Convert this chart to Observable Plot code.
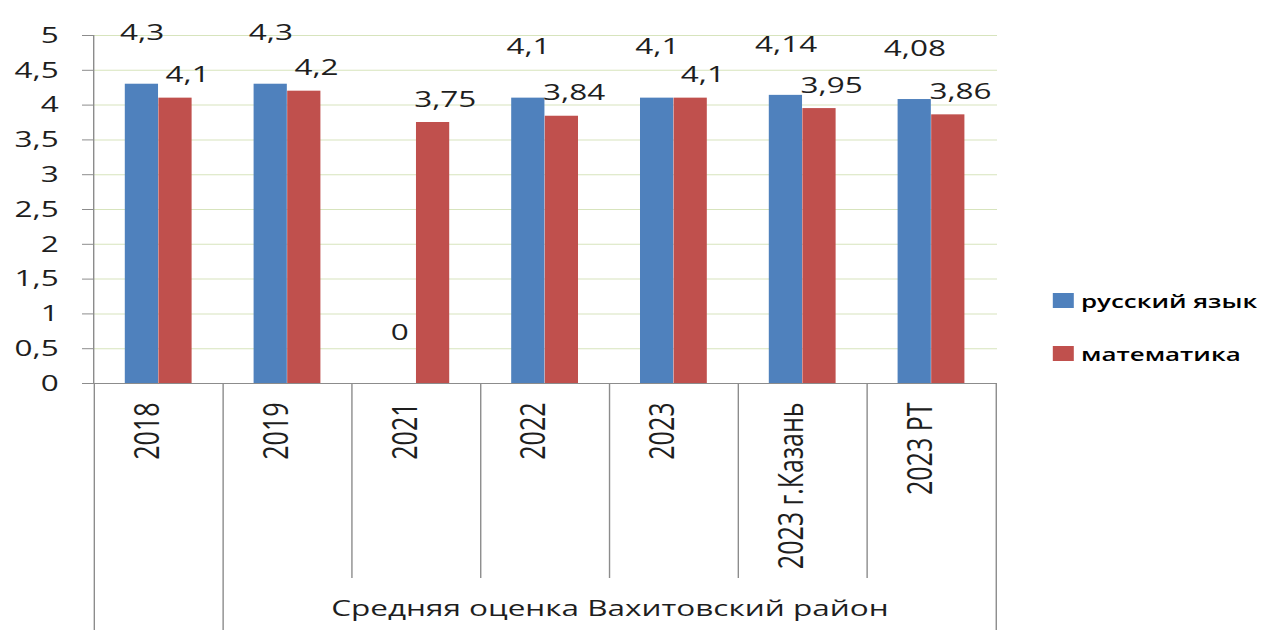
<!DOCTYPE html>
<html><head><meta charset="utf-8">
<script src="https://cdn.jsdelivr.net/npm/d3@7"></script>
<script src="https://cdn.jsdelivr.net/npm/@observablehq/plot@0.6"></script>
<style>
html,body{margin:0;padding:0;overflow:hidden;background:#fff}
#wrap{position:relative;height:630px;transform-origin:0 0}
#legend{position:absolute}
.lg-swatch{height:53px !important;display:flex !important;align-items:center;margin:0 !important;padding:0 !important}
.lg-swatch svg{margin-right:5px !important}
</style></head><body><div id="wrap"></div><script>
const categories = ["2018", "2019", "2021", "2022", "2023", "2023 г.Казань", "2023 РТ"];
const seriesNames = ["русский язык", "математика"];
const russian = [4.3, 4.3, 0, 4.1, 4.1, 4.14, 4.08];
const math = [4.1, 4.2, 3.75, 3.84, 4.1, 3.95, 3.86];
const yTicks = [0, 0.5, 1, 1.5, 2, 2.5, 3, 3.5, 4, 4.5, 5];
const groupLabel = "Средняя оценка Вахитовский район";
const groupCategories = categories.slice(1);
const colors = ["#4F81BD", "#C0504D"];

const S = 1.4;
const W = 1267 / S, H = 630;
const mL = 93 / S, mR = 270 / S, mT = 35, mB = 247;
const bw = (W - mL - mR) / categories.length;
const barW = bw * 0.26, outer = bw * 0.24;
const frameH = H - mT - mB;
const fmt = v => String(v).replace(".", ",");
const data = categories.map((c, i) => ({cat: c, ru: russian[i], math: math[i]}));
const gFirst = categories.indexOf(groupCategories[0]);
const gLast = categories.indexOf(groupCategories[groupCategories.length - 1]);
const gMid = (gFirst + gLast) / 2;
const gAnchor = categories[Math.floor(gMid)];
const gDx = (gMid - Math.floor(gMid)) * bw;
const line = "#8c8c8c";
const ink = "#1e1e1e";

const plot = Plot.plot({
  width: W, height: H,
  marginLeft: mL, marginRight: mR, marginTop: mT, marginBottom: mB,
  style: {fontFamily: "'Open Sans', sans-serif", fontSize: "22px", color: ink, background: "white", overflow: "visible"},
  x: {domain: categories, padding: 0, axis: null},
  y: {domain: [0, 5], axis: null},
  marks: [
    Plot.gridY(yTicks, {stroke: "#D7E4BD", strokeOpacity: 1}),
    Plot.barY(data, {x: "cat", y: "ru", fill: colors[0], insetLeft: outer, insetRight: outer + barW}),
    Plot.barY(data, {x: "cat", y: "math", fill: colors[1], insetLeft: outer + barW, insetRight: outer}),
    Plot.ruleY([0], {stroke: line, insetLeft: -11 / S}),
    Plot.frame({anchor: "left", stroke: line}),
    Plot.axisY(yTicks, {tickSize: 11 / S, tickPadding: 24 / S, tickFormat: fmt, stroke: line, fill: ink, fontSize: 22.5}),
    Plot.ruleX(categories.slice(0, 2), {x: d => d, dx: -bw / 2, insetTop: frameH, insetBottom: -247, stroke: line}),
    Plot.ruleX(categories.slice(-1), {x: d => d, dx: bw / 2, insetTop: frameH, insetBottom: -247, stroke: line}),
    Plot.ruleX(categories.slice(2), {x: d => d, dx: -bw / 2, insetTop: frameH, insetBottom: -195, stroke: line}),
    Plot.text(data, {x: "cat", y: "ru", text: d => fmt(d.ru), dx: -barW / 2, dy: -51, fontSize: 22.5, fill: ink}),
    Plot.text(data, {x: "cat", y: "math", text: d => fmt(d.math), dx: barW / 2 + 12 / S, dy: -23, fontSize: 22.5, fill: ink}),
    Plot.text(categories, {x: d => d, frameAnchor: "bottom", rotate: -90, textAnchor: "end", dy: 19, fontSize: 25, fill: ink}),
    Plot.text([groupLabel], {x: () => gAnchor, dx: gDx, frameAnchor: "bottom", dy: 232, fontSize: 22.5, fill: ink})
  ]
});

const wrap = document.getElementById("wrap");
wrap.style.width = W + "px";
wrap.style.transform = `scaleX(${S})`;
wrap.appendChild(plot);

const legend = Plot.legend({
  legend: "swatches",
  color: {type: "ordinal", domain: seriesNames, range: colors},
  columns: 1, swatchSize: 15, className: "lg",
  style: {fontFamily: "'Open Sans', sans-serif", fontSize: "18.5px", fontWeight: 600, color: "#000"}
});
legend.id = "legend";
legend.style.left = (1053 / S) + "px";
legend.style.top = (300 - 26.5) + "px";
wrap.appendChild(legend);
</script></body></html>
